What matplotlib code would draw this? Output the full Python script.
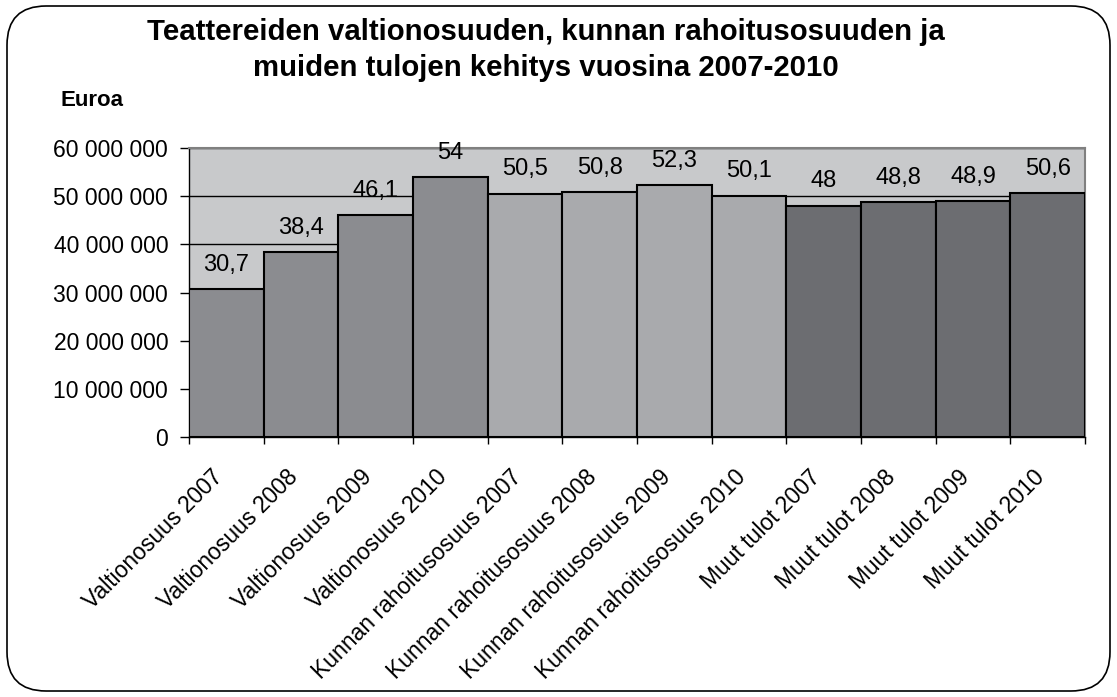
import matplotlib
matplotlib.use("Agg")
import matplotlib.pyplot as plt
from matplotlib.patches import FancyBboxPatch
from matplotlib.ticker import FuncFormatter
from matplotlib.transforms import ScaledTranslation

plt.rcParams["font.family"] = ["Liberation Sans", "DejaVu Sans"]

categories = [
    "Valtionosuus 2007", "Valtionosuus 2008", "Valtionosuus 2009", "Valtionosuus 2010",
    "Kunnan rahoitusosuus 2007", "Kunnan rahoitusosuus 2008",
    "Kunnan rahoitusosuus 2009", "Kunnan rahoitusosuus 2010",
    "Muut tulot 2007", "Muut tulot 2008", "Muut tulot 2009", "Muut tulot 2010",
]
values_million = [30.7, 38.4, 46.1, 54, 50.5, 50.8, 52.3, 50.1, 48, 48.8, 48.9, 50.6]
value_labels = ["30,7", "38,4", "46,1", "54", "50,5", "50,8", "52,3", "50,1",
                "48", "48,8", "48,9", "50,6"]
group_colors = ["#8b8c90"] * 4 + ["#a9aaad"] * 4 + ["#6c6d71"] * 4
yticks = [0, 10e6, 20e6, 30e6, 40e6, 50e6, 60e6]

W, H = 1117, 697
fig = plt.figure(figsize=(W / 100, H / 100), dpi=100)
frame = FancyBboxPatch((7 / W, 6 / H), (W - 14) / W, (H - 12) / H,
                       boxstyle="round,pad=0,rounding_size=0.035",
                       transform=fig.transFigure, facecolor="white",
                       edgecolor="black", linewidth=1.2, mutation_aspect=W / H, zorder=-1)
fig.patches.append(frame)

ax = fig.add_axes([189 / W, 1 - 437 / H, (1085 - 189) / W, (437 - 148) / H])
ax.set_facecolor("#c8c9cb")
xs = list(range(len(categories)))
vals = [v * 1e6 for v in values_million]
ax.bar(xs, vals, width=1.0, color=group_colors, edgecolor="black", linewidth=1.5, zorder=3)
for x, v, lab in zip(xs, vals, value_labels):
    ax.annotate(lab, (x, v), xytext=(0, 17.5), textcoords="offset points",
                ha="center", va="center", fontsize=17, zorder=4)

ax.set_xlim(-0.5, len(categories) - 0.5)
ax.set_ylim(0, 60e6)
ax.set_yticks(yticks)
ax.yaxis.set_major_formatter(FuncFormatter(lambda v, p: f"{int(v):,}".replace(",", " ")))
ax.grid(axis="y", color="black", linewidth=1.0, zorder=1)
ax.set_axisbelow(True)
ax.tick_params(axis="y", labelsize=16.5, length=6.5, width=1, pad=8.5)

ax.set_xticks([x - 0.5 for x in xs] + [len(xs) - 0.5])
ax.set_xticklabels([])
ax.tick_params(axis="x", length=5, width=1)
ax.set_xticks(xs, minor=True)
ax.set_xticklabels(categories, minor=True, rotation=45, ha="right", va="top",
                   rotation_mode="anchor", fontsize=16.5)
ax.tick_params(axis="x", which="minor", length=0, pad=20.5)
shift = ScaledTranslation(-15 / 100, 0, fig.dpi_scale_trans)
for lab in ax.get_xticklabels(minor=True):
    lab.set_transform(lab.get_transform() + shift)

for s in ["top", "right"]:
    ax.spines[s].set_color("#808080")
    ax.spines[s].set_linewidth(1.5)
for s in ["left", "bottom"]:
    ax.spines[s].set_color("black")
    ax.spines[s].set_linewidth(1.0)

fig.text(546 / W, 1 - 50 / H,
         "Teattereiden valtionosuuden, kunnan rahoitusosuuden ja\nmuiden tulojen kehitys vuosina 2007-2010",
         ha="center", va="center", fontsize=21.2, fontweight="bold", linespacing=1.35)
fig.text(60 / W, 1 - 101 / H, "Euroa", ha="left", va="center", fontsize=16, fontweight="bold")

fig.savefig("out.png", dpi=100)
